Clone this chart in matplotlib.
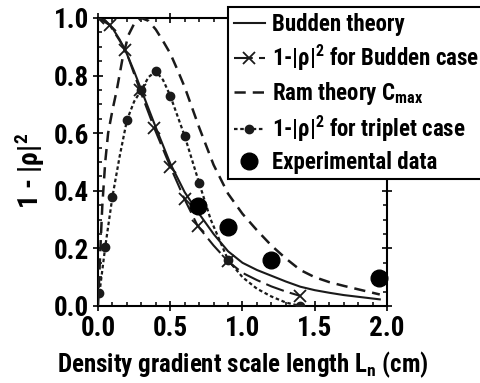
import matplotlib
matplotlib.use("Agg")
import matplotlib.pyplot as plt
from matplotlib import font_manager as fm
from matplotlib.ticker import MultipleLocator

# pick a narrow bold sans font if one is installed
def pick_font():
    entries = fm.fontManager.ttflist
    names = set(e.name for e in entries)
    for n in ['Liberation Sans Narrow', 'Arial Narrow', 'Roboto Condensed',
              'Open Sans Condensed', 'Noto Sans Condensed', 'DejaVu Sans Condensed']:
        if n in names:
            return n, 'normal'
    for e in entries:
        if str(e.stretch) in ('condensed', 'semi-condensed', 'extra-condensed') and \
                e.name in ('DejaVu Sans', 'Noto Sans', 'Open Sans', 'Roboto', 'Liberation Sans'):
            return e.name, 'condensed'
    return 'Liberation Sans', 'normal'

FNAME, FSTRETCH = pick_font()
plt.rcParams['font.family'] = [FNAME, 'DejaVu Sans']
plt.rcParams['font.weight'] = 'bold'
plt.rcParams['font.stretch'] = FSTRETCH
plt.rcParams['axes.labelweight'] = 'bold'
plt.rcParams['mathtext.fontset'] = 'custom'
plt.rcParams['mathtext.rm'] = FNAME + ':bold'
plt.rcParams['mathtext.it'] = FNAME + ':bold'
plt.rcParams['mathtext.bf'] = FNAME + ':bold'
plt.rcParams['mathtext.default'] = 'rm'

# Budden theory (solid)
budden_x = [0, 0.05, 0.1, 0.15, 0.2, 0.25, 0.3, 0.35, 0.4, 0.5, 0.6, 0.7, 0.8, 0.9,
            1.0, 1.1, 1.2, 1.3, 1.4, 1.5, 1.6, 1.7, 1.8, 1.9, 1.95]
budden_y = [1.0, 0.99, 0.965, 0.925, 0.875, 0.815, 0.75, 0.685, 0.62, 0.495, 0.395, 0.32,
            0.25, 0.19, 0.15, 0.125, 0.105, 0.085, 0.067, 0.055, 0.046, 0.038, 0.032, 0.026, 0.023]

# 1-|rho|^2 for Budden case (crosses, long dash)
bcase_x = [0.0, 0.08, 0.19, 0.29, 0.39, 0.5, 0.6, 0.69, 0.8, 0.9, 1.0, 1.1, 1.2, 1.3, 1.4]
bcase_y = [1.0, 0.976, 0.89, 0.75, 0.617, 0.484, 0.37, 0.278, 0.21, 0.155, 0.115, 0.09, 0.068, 0.05, 0.035]
bcase_marks = [0, 1, 2, 3, 4, 5, 6, 7, 9, 14]

# Ram theory C_max (dashed)
ram_x = [0, 0.01, 0.02, 0.03, 0.05, 0.07, 0.1, 0.13, 0.17, 0.21, 0.25, 0.3, 0.35, 0.4,
         0.45, 0.5, 0.55, 0.6, 0.65, 0.7, 0.8, 0.9, 1.0, 1.1, 1.2, 1.3, 1.4, 1.5, 1.6,
         1.7, 1.8, 1.95]
ram_y = [0.0, 0.12, 0.24, 0.35, 0.5, 0.6, 0.68, 0.75, 0.86, 0.94, 0.98, 1.0, 0.99, 0.96,
         0.92, 0.877, 0.82, 0.76, 0.69, 0.62, 0.49, 0.39, 0.32, 0.263, 0.21, 0.165, 0.125,
         0.1, 0.083, 0.07, 0.058, 0.04]

# 1-|rho|^2 for triplet case (dots, dotted)
trip_x = [0.01, 0.05, 0.1, 0.15, 0.2, 0.25, 0.3, 0.35, 0.4, 0.45, 0.5, 0.6, 0.7, 0.78,
          0.9, 1.0, 1.1, 1.2, 1.3, 1.4]
trip_y = [0.045, 0.205, 0.38, 0.52, 0.645, 0.71, 0.75, 0.795, 0.815, 0.785, 0.73, 0.59,
          0.427, 0.30, 0.16, 0.10, 0.06, 0.033, 0.012, 0.0]
trip_marks = [0, 1, 2, 4, 6, 8, 10, 11, 12, 14, 19]

# Experimental data
exp_x = [0.69, 0.9, 1.195, 1.945]
exp_y = [0.347, 0.274, 0.16, 0.097]

xticks = [0.0, 0.5, 1.0, 1.5, 2.0]
yticks = [0.0, 0.2, 0.4, 0.6, 0.8, 1.0]

fig = plt.figure(figsize=(4.81, 3.83), dpi=100)
ax = fig.add_axes([98/481, 1-306/383, 289/481, 288/383])

c = '#1a1a1a'
ax.plot(budden_x, budden_y, '-', color=c, lw=1.5, label='Budden theory', zorder=3)
ax.plot(bcase_x, bcase_y, color=c, lw=1.5, dashes=(9, 3), marker='x', ms=8, mew=1.3,
        markevery=bcase_marks, label='1-|ρ|$^{2}$ for Budden case', zorder=3)
ax.plot(ram_x, ram_y, color=c, lw=1.8, dashes=(4.5, 2.8), label='Ram theory C$_{max}$', zorder=3)
ax.plot(trip_x, trip_y, color=c, lw=1.6, dashes=(1.6, 1.2), marker='o', ms=6,
        markevery=trip_marks, label='1-|ρ|$^{2}$ for triplet case', zorder=3)
ax.plot(exp_x, exp_y, 'o', color='black', ms=12, label='Experimental data', zorder=4,
        clip_on=False)

ax.set_xlim(0, 2.0)
ax.set_ylim(0, 1.0)
ax.set_xticks(xticks)
ax.set_yticks(yticks)
ax.set_xticklabels([f'{v:.1f}' for v in xticks])
ax.set_yticklabels([f'{v:.1f}' for v in yticks])
ax.xaxis.set_minor_locator(MultipleLocator(0.1))
ax.yaxis.set_minor_locator(MultipleLocator(0.05))
ax.tick_params(which='major', direction='inout', length=7, width=1.2, labelsize=19.5,
               top=True, right=True, pad=3)
ax.tick_params(which='minor', direction='in', length=3, width=1.1, top=True, right=True)
for s in ax.spines.values():
    s.set_linewidth(1.5)

ax.set_xlabel('Density gradient scale length L$_{n}$ (cm)', fontsize=18,
              fontweight='bold', labelpad=5)
ax.set_ylabel('1 - |ρ|$^{2}$', fontsize=20, fontweight='bold')
ax.yaxis.set_label_coords(-0.176, 0.47)

leg = fig.legend(loc='upper left', bbox_to_anchor=(228/481, 1-7/383), fontsize=16.5,
                 frameon=True, fancybox=False, framealpha=1, edgecolor='black',
                 handlelength=1.35, handletextpad=0.3, labelspacing=0.3, borderpad=0.25,
                 borderaxespad=0)
leg.get_frame().set_linewidth(1.5)
leg.set_zorder(10)

fig.savefig('out.png', dpi=100)
